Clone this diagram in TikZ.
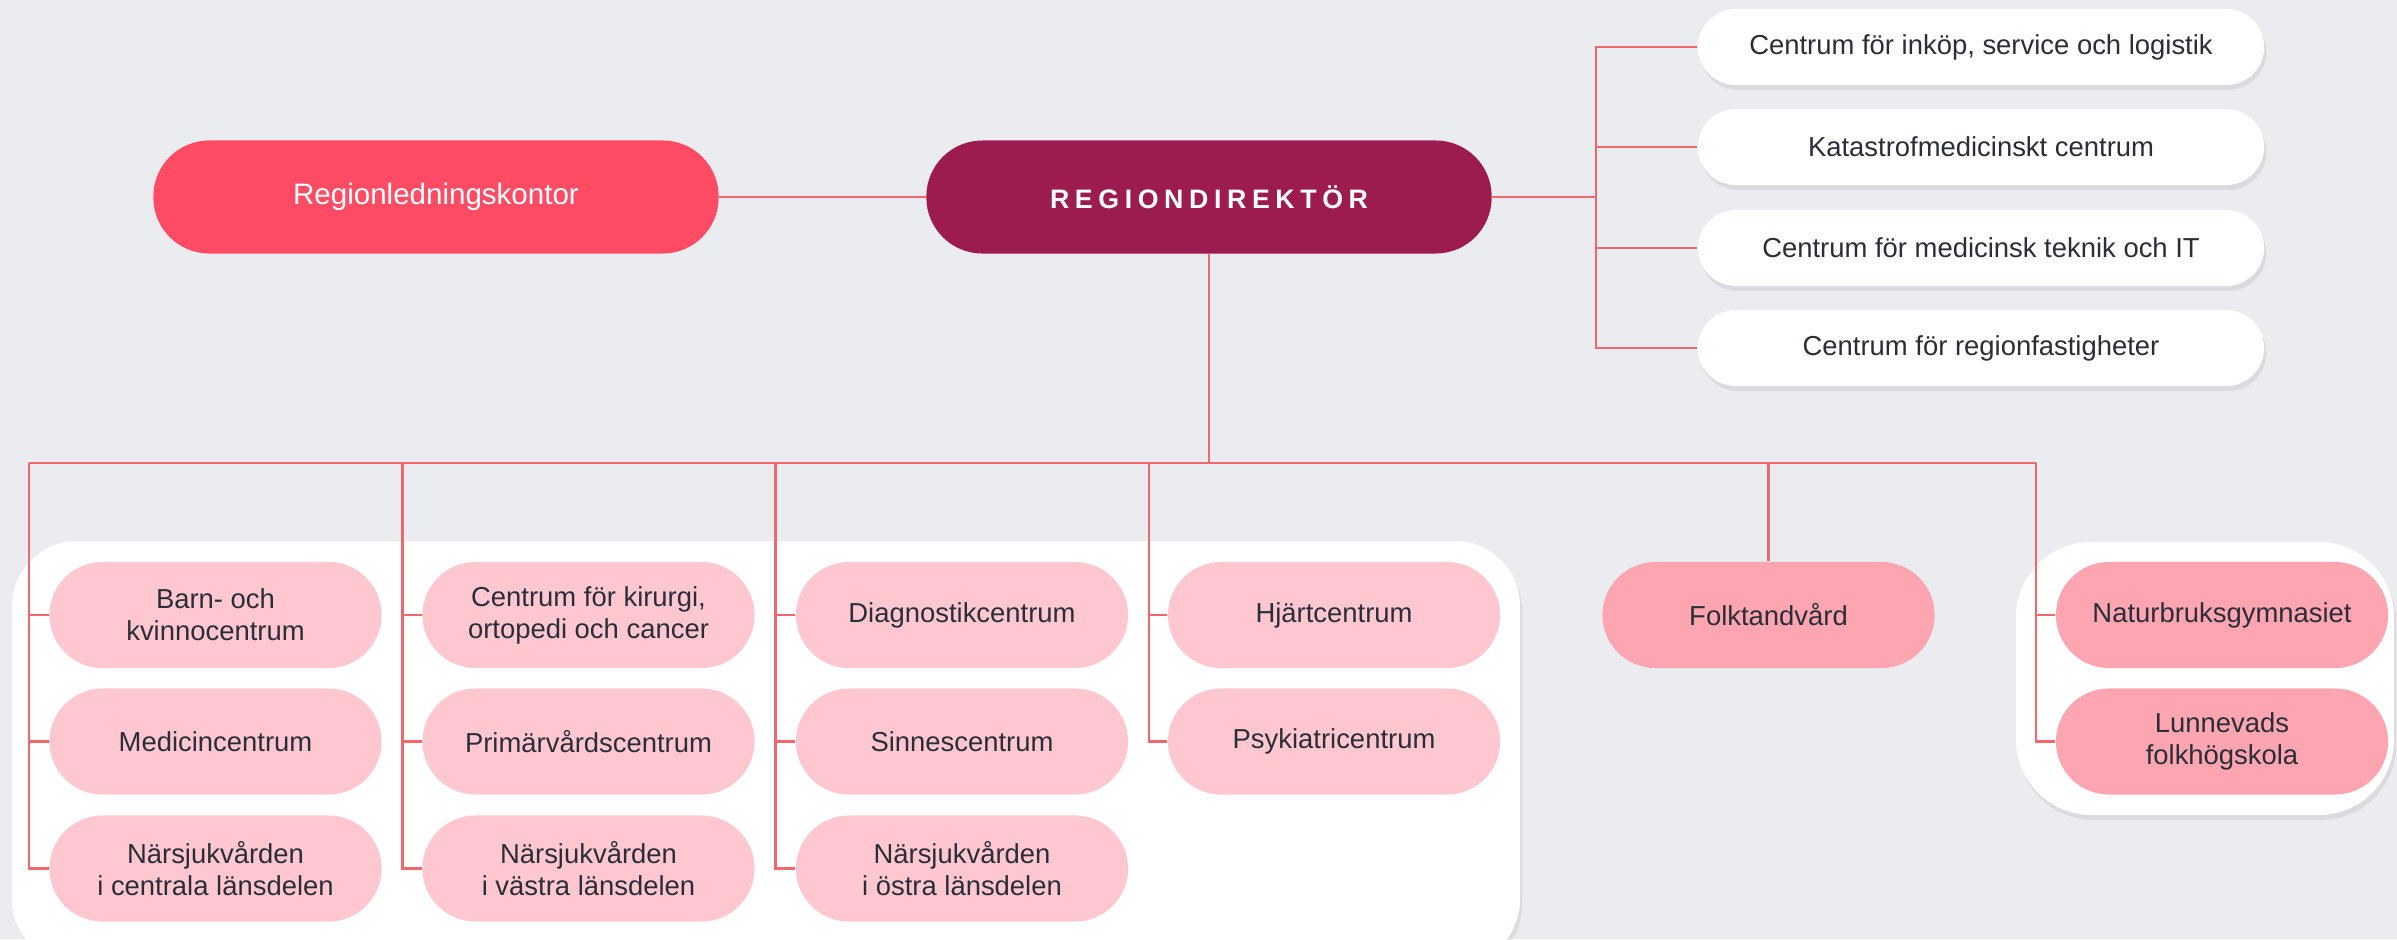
\documentclass[tikz,border=0pt]{standalone}
\usepackage{fontspec}
\setmainfont{Liberation Sans}
\newfontfamily\spacedfont[LetterSpace=21]{Liberation Sans}
\usetikzlibrary{shadows}

\definecolor{bgcol}{HTML}{EBECF0}
\definecolor{linecol}{HTML}{F2666E}
\definecolor{textcol}{HTML}{2B2E38}
\definecolor{unitpink}{HTML}{FFC7D0}
\definecolor{ownpink}{HTML}{FDA5B0}
\definecolor{officered}{HTML}{FF4C64}
\definecolor{directorred}{HTML}{9D1C50}

\newcommand\orgfont{\fontsize{7.8}{9.1}\selectfont}
\newcommand\headfont{\fontsize{8.4}{10}\selectfont}

\tikzset{
  conn/.style={draw=linecol, line width=0.7pt},
  softshadow/.style={drop shadow={shadow xshift=0.6pt, shadow yshift=-1.4pt, opacity=0.07, fill=black}},
  pill/.style={rectangle, rounded corners=0.53cm, minimum width=3.32cm, minimum height=1.06cm,
    inner sep=0pt, align=center, text=textcol, font=\orgfont},
  unitbox/.style={pill, fill=unitpink},
  ownbox/.style={pill, fill=ownpink},
  staffbox/.style={pill, fill=white, rounded corners=0.38cm, minimum width=5.66cm, minimum height=0.76cm, softshadow},
  headbox/.style={pill, rounded corners=0.56cm, minimum width=5.65cm, minimum height=1.13cm, text=white, font=\headfont},
}

\begin{document}
\begin{tikzpicture}[x=0.01cm, y=-0.01cm]
\useasboundingbox (0,0) rectangle (2397,939);
\clip (0,0) rectangle (2397,939);
\fill[bgcol] (0,0) rectangle (2397,939);

% white panels behind the units
\path[fill=white, softshadow, rounded corners=0.65cm] (12,541) rectangle (1520,965);
\path[fill=white, softshadow, rounded corners=0.75cm] (2016,542) rectangle (2394,815);

% top level
\node[headbox, fill=officered] (rlk) at (436,197) {Regionledningskontor};
\node[headbox, fill=directorred, font={\spacedfont\bfseries\fontsize{7.6}{9}\selectfont}] (rd) at (1209,197) {REGIONDIREKTÖR};

% staff units
\node[staffbox] (s1) at (1981,47) {Centrum för inköp, service och logistik};
\node[staffbox] (s2) at (1981,147) {Katastrofmedicinskt centrum};
\node[staffbox] (s3) at (1981,248) {Centrum för medicinsk teknik och IT};
\node[staffbox] (s4) at (1981,348) {Centrum för regionfastigheter};

% centres
\node[unitbox] (a1) at (215.5,615) {Barn- och\\kvinnocentrum};
\node[unitbox] (a2) at (215.5,741.5) {Medicincentrum};
\node[unitbox] (a3) at (215.5,868.5) {Närsjukvården\\i centrala länsdelen};
\node[unitbox] (b1) at (588.5,615) {Centrum för kirurgi,\\ortopedi och cancer};
\node[unitbox] (b2) at (588.5,741.5) {Primärvårdscentrum};
\node[unitbox] (b3) at (588.5,868.5) {Närsjukvården\\i västra länsdelen};
\node[unitbox] (c1) at (962,615) {Diagnostikcentrum};
\node[unitbox] (c2) at (962,741.5) {Sinnescentrum};
\node[unitbox] (c3) at (962,868.5) {Närsjukvården\\i östra länsdelen};
\node[unitbox] (d1) at (1334,615) {Hjärtcentrum};
\node[unitbox] (d2) at (1334,741.5) {Psykiatricentrum};

% own organisations
\node[ownbox] (ftv) at (1768.5,615) {Folktandvård};
\node[ownbox] (ngy) at (2222,615) {Naturbruksgymnasiet};
\node[ownbox] (lfh) at (2222,741.5) {Lunnevads\\folkhögskola};

% connectors
\coordinate (rb) at (1596,197);
\coordinate (k1) at (29,463);
\coordinate (k2) at (402.5,463);
\coordinate (k3) at (775.5,463);
\coordinate (k4) at (1149,463);
\coordinate (k6) at (2036,463);

\draw[conn] (rlk.east) -- (rd.west);
\draw[conn] (rd.east) -- (rb);
\draw[conn] (s1.west) -| (rb) |- (s4.west);
\foreach \s in {s2,s3} \draw[conn] (\s.west -| rb) -- (\s.west);

\draw[conn] (rd.south) -- (rd.south |- k1);
\draw[conn] (k1) -- (k6);
\draw[conn] (k1) |- (a3.west);
\draw[conn] (k2) |- (b3.west);
\draw[conn] (k3) |- (c3.west);
\draw[conn] (k4) |- (d2.west);
\draw[conn] (k6) |- (lfh.west);
\foreach \u/\k in {a1/k1, a2/k1, b1/k2, b2/k2, c1/k3, c2/k3, d1/k4, ngy/k6}
  \draw[conn] (\u.west -| \k) -- (\u.west);
\draw[conn] (ftv.north |- k1) -- (ftv.north);
\end{tikzpicture}
\end{document}
